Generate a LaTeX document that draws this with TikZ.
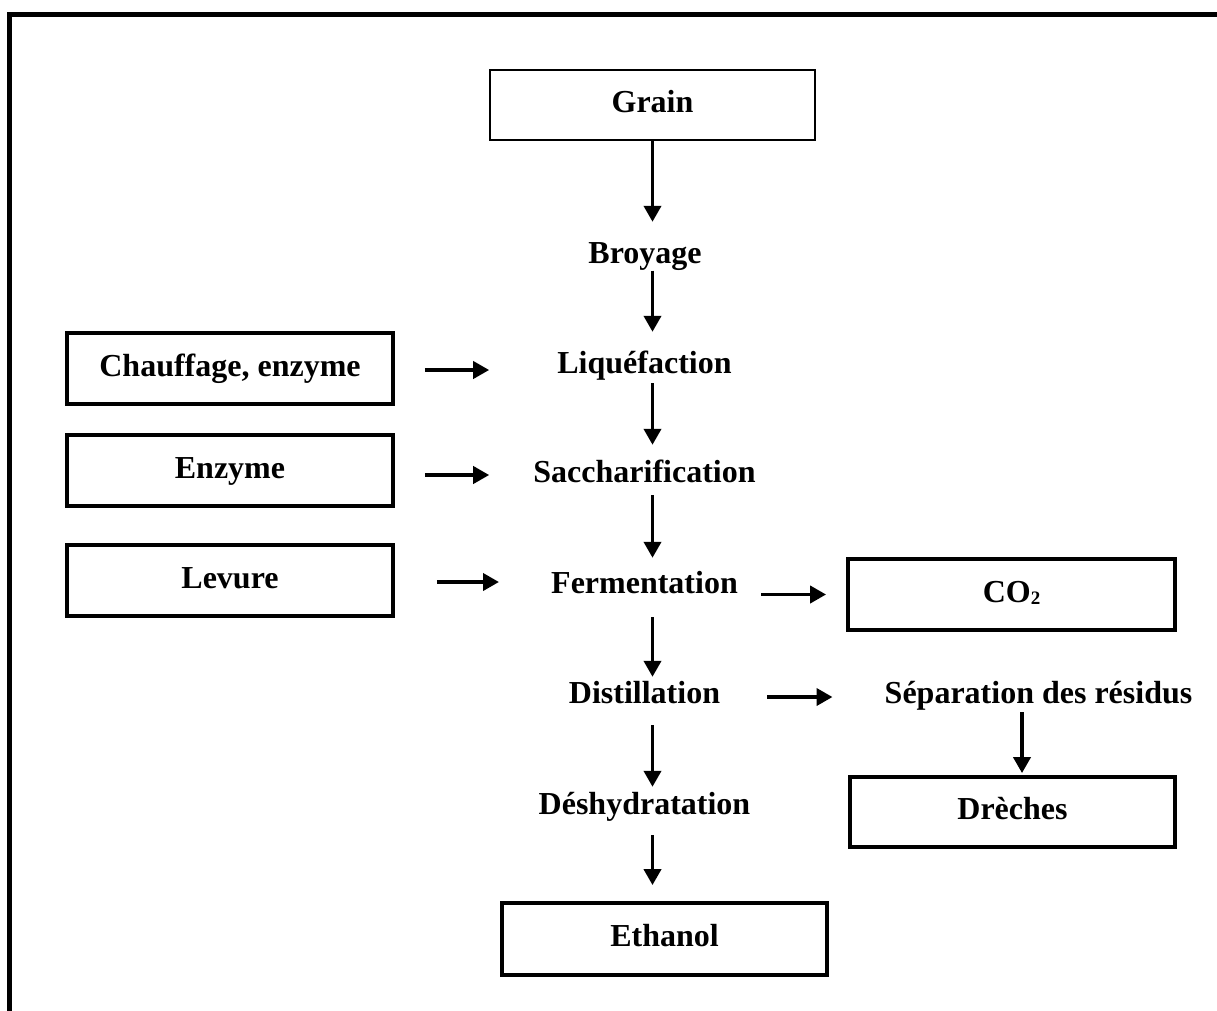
\documentclass[tikz,border=0pt]{standalone}
\usepackage{fontspec}
\setmainfont{Liberation Serif}
\usetikzlibrary{arrows.meta}
\tikzset{
  lbl/.style={font=\bfseries\fontsize{32}{38}\selectfont, inner sep=0pt, text height=22pt, text depth=7pt},
  box/.style={lbl, draw, line width=3.8pt, minimum width=326pt, minimum height=71pt},
  thinbox/.style={lbl, draw, line width=1.5pt, minimum width=325pt, minimum height=70pt},
  arr/.style={line width=3.8pt, -{Triangle[length=16pt,width=17pt]}},
}
\begin{document}
\begin{tikzpicture}[x=1pt,y=-1pt]
\useasboundingbox (0,0) rectangle (1217,1010);
% outer frame
\draw[line width=4.5pt] (9.5,1012) -- (9.5,14.5) -- (1220,14.5);
% main column
\node[thinbox] (grain) at (652.5,105) {Grain};
\node[lbl] (broy) at (645,256) {Broyage};
\node[lbl] (liq) at (644.5,366) {Liquéfaction};
\node[lbl] (sacc) at (644.5,475) {Saccharification};
\node[lbl] (ferm) at (644.5,586) {Fermentation};
\node[lbl] (dist) at (644.5,696) {Distillation};
\node[lbl] (desh) at (644.5,807) {Déshydratation};
\node[box, minimum width=325pt, minimum height=72pt] (eth) at (664.5,939) {Ethanol};
% left inputs
\node[box] (chauf) at (230,368.5) {Chauffage, enzyme};
\node[box] (enz) at (230,470.5) {Enzyme};
\node[box] (lev) at (230,580.5) {Levure};
% right outputs
\node[box, minimum width=327pt] (co2) at (1011.5,594.5) {CO{\fontsize{19}{19}\selectfont\raisebox{-2pt}{2}}};
\node[lbl] (sep) at (1038.5,696) {Séparation des résidus};
\node[box, minimum width=325pt, minimum height=70pt] (drech) at (1012.5,812) {Drèches};
% vertical arrows
\draw[arr, shorten >=19.5pt] (grain.south) -- (broy.north -| grain.south);
\draw[arr, shorten >=19.5pt] (broy.south -| grain.south) -- (liq.north -| grain.south);
\draw[arr, shorten <=2.5pt, shorten >=15.5pt] (liq.south -| grain.south) -- (sacc.north -| grain.south);
\draw[arr, shorten <=5.5pt, shorten >=13.5pt] (sacc.south -| grain.south) -- (ferm.north -| grain.south);
\draw[arr, shorten <=16.5pt, shorten >=4.5pt] (ferm.south -| grain.south) -- (dist.north -| grain.south);
\draw[arr, shorten <=14.5pt, shorten >=5.5pt] (dist.south -| grain.south) -- (desh.north -| grain.south);
\draw[arr, shorten <=13.5pt, shorten >=16pt] (desh.south -| grain.south) -- (eth.north -| grain.south);
\draw[arr, shorten <=1.5pt, shorten >=2pt] ([xshift=-16.5pt]sep.south) -- ([xshift=9.5pt]drech.north);
% horizontal arrows
\draw[arr, shorten <=30pt, shorten >=68pt] ([yshift=-1.5pt]chauf.east) -- ([yshift=-1.5pt]chauf.east -| liq.west);
\draw[arr, shorten <=30pt, shorten >=44pt] ([yshift=-4.5pt]enz.east) -- ([yshift=-4.5pt]enz.east -| sacc.west);
\draw[arr, shorten <=42pt, shorten >=52pt] ([yshift=-1.5pt]lev.east) -- ([yshift=-1.5pt]lev.east -| ferm.west);
\draw[arr, shorten <=23pt, shorten >=20pt] (co2.west -| ferm.east) -- (co2.west);
\draw[arr, shorten <=47pt, shorten >=52pt] ([yshift=-1pt]dist.east) -- ([yshift=-1pt]sep.west);
\end{tikzpicture}
\end{document}
